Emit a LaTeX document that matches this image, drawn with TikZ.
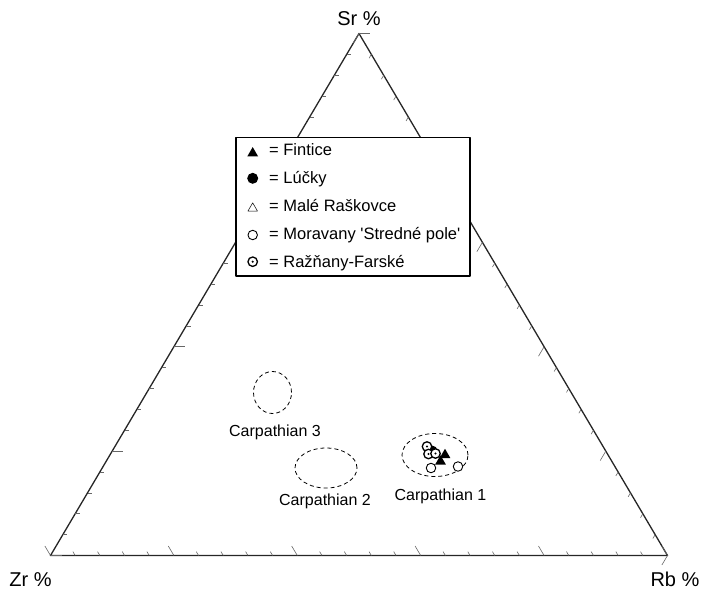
\documentclass[tikz,border=0pt]{standalone}
\usepackage{fontspec}
\setmainfont{Liberation Sans}
\usetikzlibrary{calc,shapes.geometric}

\tikzset{
    ftri/.style={regular polygon, regular polygon sides=3, fill=black, inner sep=0pt, minimum size=12.5pt},
    otri/.style={regular polygon, regular polygon sides=3, draw=black, line width=0.5pt, inner sep=0pt, minimum size=11pt},
    fcirc/.style={circle, fill=black, inner sep=0pt, minimum size=11pt},
    ocirc/.style={circle, draw=black, fill=white, line width=0.9pt, inner sep=0pt, minimum size=9.5pt},
    dcirc/.style={ocirc, line width=1.3pt, path picture={\fill[black] (path picture bounding box.center) circle (1.2pt);}},
    zone/.style={ellipse, draw=black, dash pattern=on 4pt off 3pt, line width=0.8pt, inner sep=0pt},
    tick/.style={draw=black!60, line width=0.6pt},
    entry/.style={anchor=base west, inner sep=0pt, font=\fontsize{16.5}{19}\selectfont},
    clabel/.style={anchor=base, inner sep=0pt, font=\fontsize{16}{19}\selectfont},
    axlabel/.style={anchor=base, inner sep=0pt, font=\fontsize{20}{23}\selectfont}
}

\begin{document}
\begin{tikzpicture}[x=1pt, y=-1pt, line join=round]
    \useasboundingbox (0,0) rectangle (704,590);
    \coordinate (zr) at (50.5,555.5);
    \coordinate (rb) at (667.5,555.5);
    \coordinate (sr) at (359,33.5);
    \draw[line width=1.3pt, black!85] (zr) -- (rb) -- (sr) -- cycle;
    \foreach \i in {0,...,25}{
        \pgfmathsetmacro\len{mod(\i,5)==0 ? 11 : 4.5}
        \draw[tick] ($(zr)!\i/25!(rb)$) -- ++({-0.509*\len},{-0.861*\len});
        \draw[tick] ($(zr)!\i/25!(sr)$) -- ++(\len,0);
        \draw[tick] ($(rb)!\i/25!(sr)$) -- ++({-0.509*\len},{0.861*\len});
    }
    \node[axlabel] (srl) at (359,25) {Sr \%};
    \node[axlabel] (zrl) at (30.5,586) {Zr \%};
    \node[axlabel] (rbl) at (675,586) {Rb \%};

    \node[draw=black, fill=white, line width=1.6pt, minimum width=234pt, minimum height=138.5pt, inner sep=0pt] (legend) at (352.8,206.7) {};
    \node[ftri] (s1) at (252.7,153.3) {};
    \node[fcirc] (s2) at (252.7,178.3) {};
    \node[otri] (s3) at (252.7,208.3) {};
    \node[ocirc] (s4) at (252.7,235) {};
    \node[dcirc] (s5) at (252.7,261.7) {};
    \node[entry] (t1) at (269,155.7) {= Fintice};
    \node[entry] (t2) at (269,183.7) {= Lúčky};
    \node[entry] (t3) at (269,211.7) {= Malé Raškovce};
    \node[entry] (t4) at (269,239.7) {= Moravany \textquotesingle Stredné pole\textquotesingle};
    \node[entry] (t5) at (269,267.7) {= Ražňany-Farské};

    \node[zone, minimum width=38pt, minimum height=42pt] (c3) at (272.5,392.5) {};
    \node[zone, minimum width=62pt, minimum height=40pt] (c2) at (326,468) {};
    \node[zone, minimum width=66pt, minimum height=43pt] (c1) at (435,455) {};
    \node[clabel] (l3) at (275,436.5) {Carpathian 3};
    \node[clabel] (l2) at (325,505) {Carpathian 2};
    \node[clabel] (l1) at (440.5,500) {Carpathian 1};

    \node[fcirc] (p0) at (432,451) {};
    \node[dcirc] (p1) at (427,446.5) {};
    \node[dcirc] (p2) at (428.5,454) {};
    \node[dcirc] (p3) at (435.5,453.5) {};
    \node[ftri] (p4) at (445,455) {};
    \node[ftri] (p5) at (440.5,461.5) {};
    \node[ocirc] (p6) at (431,468) {};
    \node[ocirc] (p7) at (458,466.5) {};
\end{tikzpicture}
\end{document}
